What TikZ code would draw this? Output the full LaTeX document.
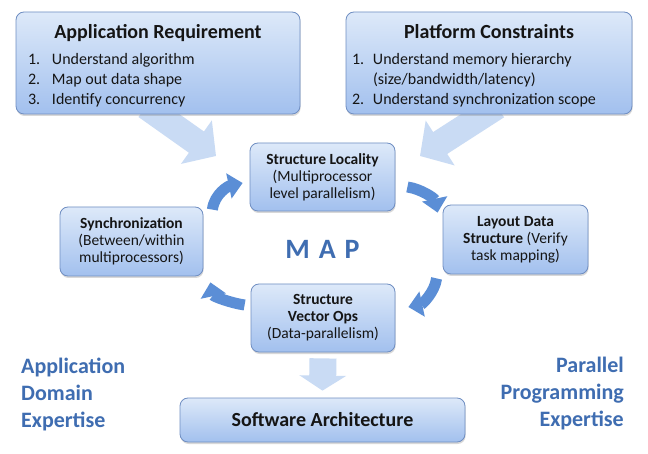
\documentclass[tikz,border=0pt]{standalone}
\usepackage{fontspec}
\setmainfont{Carlito}
\usetikzlibrary{arrows.meta, shadows}

\definecolor{boxtop}{HTML}{DDE9F9}
\definecolor{boxbot}{HTML}{A2C0EE}
\definecolor{boxline}{HTML}{6F8EC2}
\definecolor{inkblue}{HTML}{3F6DB1}
\definecolor{cycblue}{HTML}{5B8ED6}
\definecolor{flowblue}{HTML}{C9DBF4}
\definecolor{boxtext}{HTML}{151515}

\pgfdeclarelayer{bg}
\pgfsetlayers{bg,main}

\tikzset{
  box/.style={draw=boxline, line width=0.8pt, rounded corners=8pt,
    top color=boxtop, bottom color=boxbot, text=boxtext,
    drop shadow={opacity=0.3, shadow xshift=0.6pt, shadow yshift=-2pt},
    inner sep=0pt, align=center, font=\fontsize{15.5}{17}\selectfont},
  topbox/.style={box, font=\fontsize{16}{20}\selectfont},
  cyc/.style={draw=cycblue, line width=11pt, -{Triangle[width=25pt, length=14pt]}},
  flow/.style={draw=flowblue, line width=26pt, -{Triangle[width=52pt, length=24pt]}},
  side/.style={text=inkblue, inner sep=0pt, font=\fontsize{22}{27}\selectfont\bfseries},
}

\begin{document}
\begin{tikzpicture}[x=1pt, y=-1pt]
  \useasboundingbox (0,0) rectangle (648,454);

  % the two inputs
  \node[topbox, minimum width=284pt, minimum height=102pt] (app) at (158,63) {%
    \begin{tabular}{@{}p{24pt}@{}p{236pt}@{}}
      \multicolumn{2}{@{}c@{}}{\rule{0pt}{23pt}\fontsize{20}{24}\selectfont\bfseries Application Requirement}\\[6pt]
      1. & Understand algorithm\\
      2. & Map out data shape\\
      3. & Identify concurrency
    \end{tabular}};
  \node[topbox, minimum width=286pt, minimum height=102pt] (plat) at (489,63) {%
    \begin{tabular}{@{}p{21pt}@{}p{253pt}@{}}
      \multicolumn{2}{@{}c@{}}{\rule{0pt}{23pt}\fontsize{20}{24}\selectfont\bfseries Platform Constraints}\\[6pt]
      1. & Understand memory hierarchy\\
         & (size/bandwidth/latency)\\
      2. & Understand synchronization scope
    \end{tabular}};

  % the map cycle
  \node[box, minimum width=145pt, minimum height=68pt] (loc) at (322.5,177)
    {\textbf{Structure Locality}\\(Multiprocessor\\level parallelism)};
  \node[box, minimum width=145pt, minimum height=69pt] (lay) at (515.5,239.5)
    {\textbf{Layout Data}\\\textbf{Structure} (Verify\\task mapping)};
  \node[box, minimum width=144pt, minimum height=68pt] (vec) at (323,318)
    {\textbf{Structure}\\\textbf{Vector Ops}\\(Data-parallelism)};
  \node[box, minimum width=143pt, minimum height=69pt] (sync) at (131.5,241.5)
    {\textbf{Synchronization}\\(Between/within\\multiprocessors)};
  \node[text=inkblue, font=\fontsize{28}{30}\selectfont\bfseries] (map) at (322.5,249) {M\hspace{9pt}A\hspace{9pt}P};

  \node[box, minimum width=285pt, minimum height=44pt, font=\fontsize{20}{24}\selectfont\bfseries] (sw) at (322.5,420)
    {Software Architecture};

  % expertise labels
  \node[side, anchor=west, align=left] (dom) at (21,394) {Application\\Domain\\Expertise};
  \node[side, anchor=east, align=right] (par) at (624,394) {Parallel\\Programming\\Expertise};

  \coordinate (tipA) at (216,156);
  \coordinate (tipB) at (420,156);

  \begin{pgfonlayer}{bg}
    \fill[white] (0,0) rectangle (648,454);
    \draw[flow] ([shift={(-12,-8)}]app.south) -- (tipA);
    \draw[flow] ([shift={(8,-8)}]plat.south) -- (tipB);
    \draw[flow, line width=27pt, -{Triangle[width=46pt, length=15pt]}]
      ([shift={(0,6)}]vec.south) -- ([shift={(0,-7)}]sw.north);
  \end{pgfonlayer}

  \draw[cyc] ([shift={(9,3)}]sync.north east) .. controls +(2,-16) and +(-14,3) .. ([shift={(-7,6)}]loc.west);
  \draw[cyc] ([shift={(12,10)}]loc.east) .. controls +(14,2) and +(-3,-14) .. ([shift={(-5,8)}]lay.north west);
  \draw[cyc] ([shift={(-6,4)}]lay.south west) .. controls +(-2,14) and +(14,-3) .. ([shift={(13,-11)}]vec.east);
  \draw[cyc] ([shift={(-6,-13)}]vec.west) .. controls +(-14,-2) and +(3,14) .. ([shift={(7,6)}]sync.south east);
\end{tikzpicture}
\end{document}
